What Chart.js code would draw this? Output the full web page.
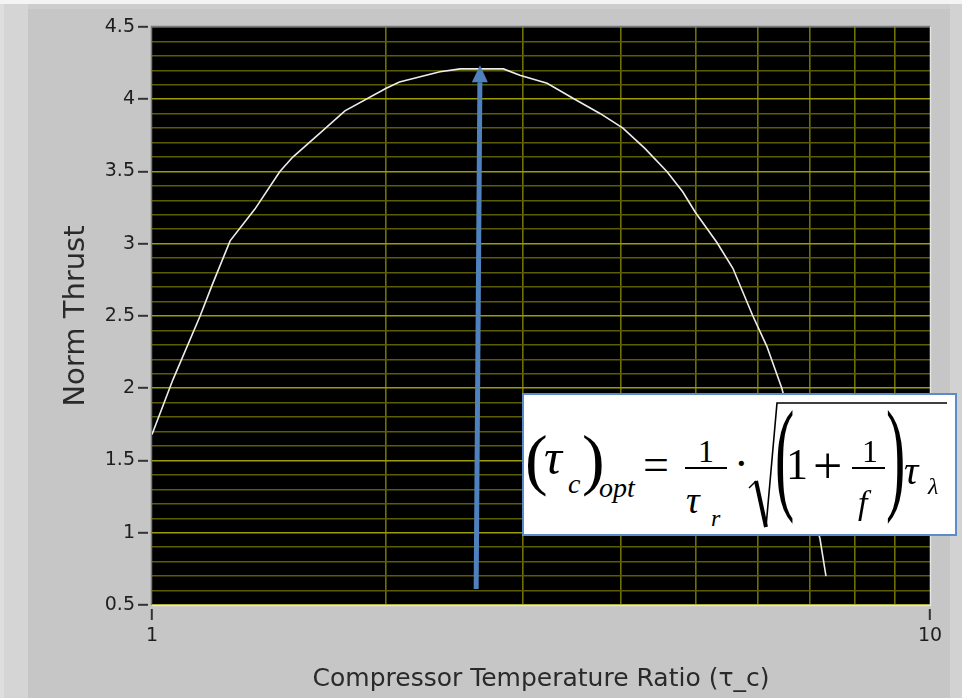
<!DOCTYPE html>
<html>
<head>
<meta charset="utf-8">
<title>Norm Thrust</title>
<script src="https://cdn.jsdelivr.net/npm/chart.js"></script>
<style>
  body { margin: 0; width: 962px; height: 698px; overflow: hidden; position: relative; background: #c6c6c6; }
  .strip { position: absolute; }
  #chartBox { position: absolute; left: 0; top: 0; width: 962px; height: 698px; }
  #eqBox { position: absolute; left: 522px; top: 393px; width: 431px; height: 139px; background: #fff; border: 2px solid #5b8bc8; }
  .eq { position: absolute; font-family: "Liberation Serif", "Times New Roman", serif; line-height: 1; color: #000; white-space: nowrap; transform-origin: left top; }
  .eq.it { font-style: italic; }
  .bar { position: absolute; height: 2px; background: #000; }
  #rad { position: absolute; left: 0; top: 0; }
</style>
</head>
<body>
<div class="strip" style="left:0;top:0;width:962px;height:4px;background:#f4f4f4"></div>
<div class="strip" style="left:0;top:4px;width:28px;height:694px;background:#d5d5d5"></div>
<div class="strip" style="left:0;top:4px;width:4px;height:694px;background:#dedede"></div>
<div class="strip" style="left:28px;top:4px;width:934px;height:5px;background:#cdcdcd"></div>
<div class="strip" style="left:950px;top:4px;width:12px;height:694px;background:#d2d2d2"></div>
<div id="chartBox"><canvas id="thrustChart"></canvas></div>
<div id="eqBox"></div>

<script>
    // Curve (x: compressor temperature ratio, y: norm thrust)
    const tauC = [1.00, 1.064, 1.153, 1.194, 1.26, 1.356, 1.46, 1.517, 1.644, 1.77, 2.0, 2.08, 2.345, 2.49,
                  2.83, 2.97, 3.22, 3.476, 3.77, 4.03, 4.30, 4.59, 4.81, 4.99, 5.32, 5.58, 5.92, 6.17, 6.45, 7.22, 7.35];
    const normThrust = [1.68, 2.06, 2.50, 2.71, 3.02, 3.24, 3.50, 3.60, 3.765, 3.92, 4.076, 4.12, 4.19, 4.21,
                        4.21, 4.166, 4.11, 4.007, 3.90, 3.80, 3.66, 3.50, 3.36, 3.22, 3.01, 2.83, 2.50, 2.29, 2.0, 0.96, 0.70];

    // Axes
    const xTickValues = [1, 2, 3, 4, 5, 6, 7, 8, 9, 10];
    const xTickLabels = ['1', '', '', '', '', '', '', '', '', '10'];
    const yMajorTicks = [0.5, 1, 1.5, 2, 2.5, 3, 3.5, 4, 4.5];
    const yTickLabels = ['0.5', '1', '1.5', '2', '2.5', '3', '3.5', '4', '4.5'];

    // Optimum arrow (data coordinates)
    const arrowFrom = [2.61, 0.61];
    const arrowTo = [2.64, 4.235];

    const isMajorY = v => yMajorTicks.some(m => Math.abs(m - v) < 1e-6);
    const isLabelledX = v => xTickLabels[xTickValues.indexOf(v)] !== '';

    const plotFrame = {
        id: 'plotFrame',
        beforeDraw(chart) {
            const { ctx, chartArea: a } = chart;
            ctx.save();
            ctx.fillStyle = '#000';
            ctx.fillRect(a.left, a.top, a.right - a.left, a.bottom - a.top);
            ctx.restore();
        },
        beforeDatasetsDraw(chart) {
            const { ctx, chartArea: a } = chart;
            ctx.save();
            ctx.lineWidth = 1.5;
            ctx.strokeStyle = '#7a7a7a';
            ctx.beginPath();
            ctx.moveTo(a.left - 0.5, a.bottom);
            ctx.lineTo(a.left - 0.5, a.top - 0.5);
            ctx.lineTo(a.right, a.top - 0.5);
            ctx.stroke();
            ctx.strokeStyle = '#e4e4e4';
            ctx.beginPath();
            ctx.moveTo(a.left, a.bottom + 0.5);
            ctx.lineTo(a.right + 0.5, a.bottom + 0.5);
            ctx.lineTo(a.right + 0.5, a.top);
            ctx.stroke();
            ctx.restore();
        },
        afterDatasetsDraw(chart) {
            const { ctx } = chart;
            const xs = chart.scales.x, ys = chart.scales.y;
            const x0 = xs.getPixelForValue(arrowFrom[0]), y0 = ys.getPixelForValue(arrowFrom[1]);
            const x1 = xs.getPixelForValue(arrowTo[0]), y1 = ys.getPixelForValue(arrowTo[1]);
            const len = Math.hypot(x1 - x0, y1 - y0);
            const ux = (x1 - x0) / len, uy = (y1 - y0) / len;
            const head = 17, half = 8;
            const bx = x1 - ux * head, by = y1 - uy * head;
            ctx.save();
            ctx.strokeStyle = '#4f81bd';
            ctx.fillStyle = '#4f81bd';
            ctx.lineWidth = 5;
            ctx.beginPath();
            ctx.moveTo(x0, y0);
            ctx.lineTo(bx, by);
            ctx.stroke();
            ctx.beginPath();
            ctx.moveTo(x1, y1);
            ctx.lineTo(bx - uy * half, by + ux * half);
            ctx.lineTo(bx + uy * half, by - ux * half);
            ctx.closePath();
            ctx.fill();
            ctx.restore();
        }
    };

    const ctx = document.getElementById('thrustChart').getContext('2d');
    new Chart(ctx, {
        type: 'line',
        data: {
            datasets: [{
                label: 'Norm Thrust',
                data: tauC.map((x, i) => ({ x: x, y: normThrust[i] })),
                borderColor: '#ececec',
                borderWidth: 1.6,
                pointRadius: 0,
                tension: 0,
                fill: false
            }]
        },
        options: {
            responsive: true,
            maintainAspectRatio: false,
            animation: false,
            layout: { padding: { top: 27, right: 32, left: 0, bottom: 0 } },
            plugins: { legend: { display: false }, tooltip: { enabled: false } },
            scales: {
                x: {
                    type: 'logarithmic',
                    min: 1,
                    max: 10,
                    afterBuildTicks: s => { s.ticks = xTickValues.map(v => ({ value: v })); },
                    afterFit: s => { s.height = 93; },
                    border: { display: false },
                    grid: {
                        color: c => (c.tick && isLabelledX(c.tick.value)) ? 'rgba(0,0,0,0)' : '#707000',
                        lineWidth: 1.6,
                        tickColor: c => (c.tick && isLabelledX(c.tick.value)) ? '#333' : 'rgba(0,0,0,0)',
                        tickLength: 15,
                        tickWidth: 2,
                        tickBorderDash: [11, 4],
                        tickBorderDashOffset: 11
                    },
                    ticks: {
                        autoSkip: false,
                        maxRotation: 0,
                        padding: 5,
                        color: '#1e1e1e',
                        font: { family: 'DejaVu Sans', size: 19 },
                        callback: v => xTickLabels[xTickValues.indexOf(v)] || ''
                    },
                    title: {
                        display: true,
                        text: 'Compressor Temperature Ratio (τ_c)',
                        color: '#2a2a2a',
                        font: { family: 'DejaVu Sans', size: 25 },
                        padding: { top: 0, bottom: 4 }
                    }
                },
                y: {
                    min: 0.5,
                    max: 4.5,
                    afterBuildTicks: s => {
                        const t = [];
                        for (let i = 0; i < yMajorTicks.length - 1; i++) {
                            for (let k = 0; k < 5; k++) t.push({ value: yMajorTicks[i] + k * 0.1 });
                        }
                        t.push({ value: yMajorTicks[yMajorTicks.length - 1] });
                        s.ticks = t;
                    },
                    afterFit: s => { s.width = 152; },
                    border: { display: false },
                    grid: {
                        color: c => (c.tick && isMajorY(c.tick.value)) ? '#9c9c00' : '#5c5c00',
                        lineWidth: 1.6,
                        tickColor: c => (c.tick && isMajorY(c.tick.value)) ? '#333' : 'rgba(0,0,0,0)',
                        tickLength: 14,
                        tickWidth: 2,
                        tickBorderDash: [10, 4]
                    },
                    ticks: {
                        autoSkip: false,
                        padding: 3,
                        color: '#1e1e1e',
                        font: { family: 'DejaVu Sans', size: 19 },
                        callback: v => {
                            const i = yMajorTicks.findIndex(m => Math.abs(m - v) < 1e-6);
                            return i >= 0 ? yTickLabels[i] : '';
                        }
                    },
                    title: {
                        display: true,
                        text: 'Norm Thrust',
                        color: '#2a2a2a',
                        font: { family: 'DejaVu Sans', size: 29 },
                        padding: { top: 59, bottom: 0 }
                    }
                }
            }
        },
        plugins: [plotFrame]
    });

    // Optimum formula overlay: (τc)opt = 1/τr · sqrt((1 + 1/f) τλ)
    // [text, left, baseline, size, italic, scaleY]
    const eqPieces = [
        ['(', 525, 482, 68, false, 1],
        ['τ', 544, 474, 50, true, 1],
        ['c', 568, 493, 28, true, 1],
        [')', 582, 482, 68, false, 1],
        ['opt', 599, 497, 28, true, 1],
        ['=', 643, 481, 46, false, 1],
        ['1', 698, 462, 32, false, 1],
        ['τ', 686, 513, 38, true, 1],
        ['r', 711, 526, 24, true, 1],
        ['·', 734, 479, 44, false, 1],
        ['(', 775, 498, 58, false, 2.14],
        ['1', 786, 480, 44, false, 1],
        ['+', 813, 484, 52, false, 1],
        ['1', 862, 462, 32, false, 1],
        ['f', 858, 514, 34, true, 1],
        [')', 886, 498, 58, false, 2.14],
        ['τ', 904, 484, 40, true, 1],
        ['λ', 928, 494, 24, true, 1]
    ];
    const eqBars = [[685, 727, 467], [852, 885, 467]];

    eqPieces.forEach(([text, left, base, size, italic, sy]) => {
        const s = document.createElement('span');
        s.className = italic ? 'eq it' : 'eq';
        s.textContent = text;
        s.style.left = left + 'px';
        s.style.fontSize = size + 'px';
        s.style.top = (base - 0.8375 * size * sy) + 'px';
        if (sy !== 1) s.style.transform = 'scaleY(' + sy + ')';
        document.body.appendChild(s);
    });
    eqBars.forEach(([x0, x1, y]) => {
        const b = document.createElement('div');
        b.className = 'bar';
        b.style.left = x0 + 'px';
        b.style.top = y + 'px';
        b.style.width = (x1 - x0) + 'px';
        document.body.appendChild(b);
    });

    // radical sign
    const svgNS = 'http://www.w3.org/2000/svg';
    const svg = document.createElementNS(svgNS, 'svg');
    svg.setAttribute('id', 'rad');
    svg.setAttribute('width', '962');
    svg.setAttribute('height', '698');
    [['M749,488 L756,481', 1.5], ['M756,481 L766,527', 4], ['M766,527 L777,403 L947,403', 1.6]].forEach(([d, w]) => {
        const p = document.createElementNS(svgNS, 'path');
        p.setAttribute('d', d);
        p.setAttribute('stroke', '#000');
        p.setAttribute('stroke-width', w);
        p.setAttribute('fill', 'none');
        svg.appendChild(p);
    });
    document.body.appendChild(svg);
</script>
</body>
</html>
